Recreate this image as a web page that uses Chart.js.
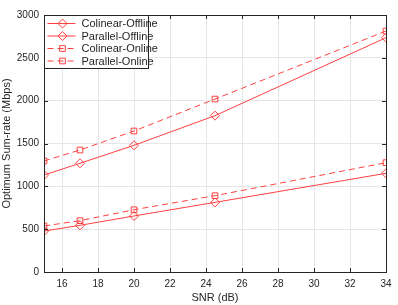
<!DOCTYPE html>
<html>
<head>
<meta charset="utf-8">
<script src="https://cdn.jsdelivr.net/npm/chart.js@4/dist/chart.umd.min.js"></script>
<style>
  html, body { margin: 0; padding: 0; background: #fff; }
  #wrap { width: 398px; height: 305px; }
</style>
</head>
<body>
<div id="wrap"><canvas id="c" width="398" height="305"></canvas></div>
<script>
// SNR points (dB) and sum-rate values (Mbps)
const snr = [15, 17, 20, 24.5, 34];
const colinearOffline = [1132, 1269, 1479, 1825, 2735];
const parallelOffline = [478, 545, 654, 813, 1152];
const colinearOnline  = [1296, 1424, 1646, 2019, 2813];
const parallelOnline  = [537, 599, 727, 891, 1276];

const xTicks = [16, 18, 20, 22, 24, 26, 28, 30, 32, 34];
const yTicks = [0, 500, 1000, 1500, 2000, 2500, 3000];

const RED = "rgb(255,64,64)";
const AXIS = "#262626";
const FONT = "'Liberation Sans', Arial, sans-serif";

function pts(ys) { return snr.map((x, i) => ({ x, y: ys[i] })); }

function series(label, ys, marker, dashed) {
  return {
    label,
    data: pts(ys),
    borderColor: RED,
    backgroundColor: "rgba(0,0,0,0)",
    borderWidth: 1,
    borderDash: dashed ? [6, 4] : [],
    pointStyle: marker,
    pointRadius: marker === "rectRot" ? 4.5 : 4,
    pointBorderColor: RED,
    pointBackgroundColor: "rgba(0,0,0,0)",
    pointBorderWidth: 1,
    tension: 0
  };
}

// box, inward ticks and legend drawn on top, MATLAB style
const boxPlugin = {
  id: "box",
  afterDraw(chart) {
    const { ctx, chartArea: a, scales } = chart;
    ctx.save();
    ctx.strokeStyle = AXIS;
    ctx.lineWidth = 1;
    ctx.beginPath();
    xTicks.forEach(v => {
      const px = Math.round(scales.x.getPixelForValue(v)) + 0.5;
      ctx.moveTo(px, a.bottom); ctx.lineTo(px, a.bottom - 4);
      ctx.moveTo(px, a.top); ctx.lineTo(px, a.top + 4);
    });
    yTicks.forEach(v => {
      const py = Math.round(scales.y.getPixelForValue(v)) + 0.5;
      ctx.moveTo(a.left, py); ctx.lineTo(a.left + 4, py);
      ctx.moveTo(a.right, py); ctx.lineTo(a.right - 4, py);
    });
    ctx.stroke();
    ctx.strokeRect(Math.round(a.left) + 0.5, Math.round(a.top) + 0.5,
      Math.round(a.right - a.left), Math.round(a.bottom - a.top));

    // legend
    const lx = Math.round(a.left) + 0.5, ly = Math.round(a.top) + 0.5;
    const lw = 104, lh = 53;
    ctx.fillStyle = "#fff";
    ctx.fillRect(lx, ly, lw, lh);
    ctx.strokeRect(lx, ly, lw, lh);
    ctx.font = "11px " + FONT;
    ctx.textBaseline = "middle";
    chart.data.datasets.forEach((ds, i) => {
      const y = ly + 8 + i * 12.5;
      ctx.strokeStyle = RED;
      ctx.setLineDash(ds.borderDash);
      ctx.beginPath();
      ctx.moveTo(lx + 3, y); ctx.lineTo(lx + 31, y);
      ctx.stroke();
      ctx.setLineDash([]);
      ctx.fillStyle = "rgba(0,0,0,0)";
      Chart.helpers.drawPoint(ctx, { pointStyle: ds.pointStyle, radius: ds.pointRadius, rotation: 0, borderWidth: 1 }, lx + 18, y);
      ctx.fillStyle = AXIS;
      ctx.fillText(ds.label, lx + 37, y + 0.5);
    });
    ctx.restore();
  }
};

new Chart(document.getElementById("c"), {
  type: "line",
  data: {
    datasets: [
      series("Colinear-Offline", colinearOffline, "rectRot", false),
      series("Parallel-Offline", parallelOffline, "rectRot", false),
      series("Colinear-Online", colinearOnline, "rect", true),
      series("Parallel-Online", parallelOnline, "rect", true)
    ]
  },
  options: {
    responsive: false,
    animation: false,
    layout: { padding: { left: 0, right: 12, top: 15, bottom: 0 } },
    plugins: { legend: { display: false }, tooltip: { enabled: false } },
    scales: {
      x: {
        type: "linear",
        min: 15, max: 34,
        afterBuildTicks(s) { s.ticks = xTicks.map(v => ({ value: v })); },
        afterFit(s) { s.height = 33; },
        border: { display: false },
        grid: { color: "#e6e6e6", drawTicks: false },
        ticks: { color: AXIS, font: { family: FONT, size: 10 }, padding: 6, maxRotation: 0, callback: v => String(v) },
        title: { display: true, text: "SNR (dB)", color: AXIS, font: { family: FONT, size: 11 }, padding: { top: 0, bottom: 0 } }
      },
      y: {
        min: 0, max: 3000,
        afterBuildTicks(s) { s.ticks = yTicks.map(v => ({ value: v })); },
        afterFit(s) { s.width = 44; },
        border: { display: false },
        grid: { color: "#e6e6e6", drawTicks: false },
        ticks: { color: AXIS, font: { family: FONT, size: 10 }, padding: 5, callback: v => String(v) },
        title: { display: true, text: "Optimum Sum-rate (Mbps)", color: AXIS, font: { family: FONT, size: 11 }, padding: { top: 0, bottom: 0 } }
      }
    }
  },
  plugins: [boxPlugin]
});
</script>
</body>
</html>
